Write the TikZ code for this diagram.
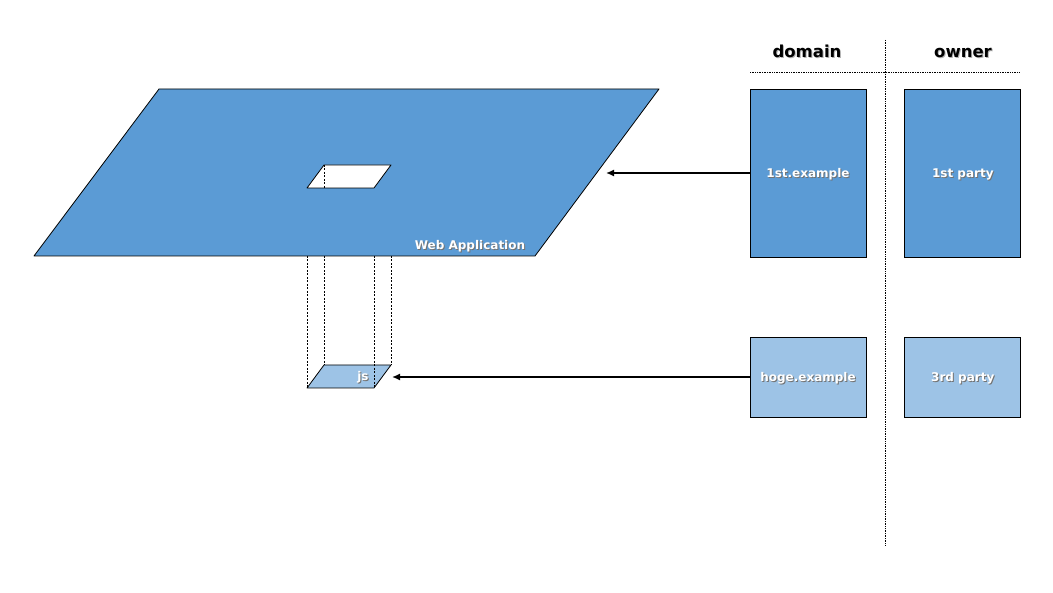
\documentclass[tikz,border=0pt]{standalone}
\usepackage{fontspec}
\setmainfont{DejaVu Sans}
\usetikzlibrary{positioning,arrows.meta}
\definecolor{appblue}{HTML}{5B9BD5}
\definecolor{jsblue}{HTML}{9DC3E6}
\newcommand{\shtext}[3]{\makebox[0pt][l]{\hspace{1pt}\raisebox{-1pt}{\color{#2}#3}}{\color{#1}#3}}
\newcommand{\boxtext}[1]{\shtext{white}{black!55}{#1}}
\newcommand{\headtext}[1]{\shtext{black}{black!30}{#1}}

\begin{document}
\begin{tikzpicture}[x=1pt,y=-1pt,
  box/.style={draw,line width=0.8pt,fill=#1,minimum width=116pt,inner sep=0pt,text height=8.8pt,text depth=0pt,font=\bfseries\fontsize{12}{14}\selectfont},
  head/.style={font=\bfseries\fontsize{16.5}{19}\selectfont,text height=12pt,text depth=0pt},
  sep/.style={densely dotted,line width=0.7pt},
  hidden/.style={dash pattern=on 2pt off 1.5pt,line width=0.6pt},
  link/.style={-{Latex[length=8pt,width=7pt]},line width=1.4pt},
  plane/.style={draw,line width=0.8pt,line join=round}]
\useasboundingbox (0,0) rectangle (1053,593);
%% the web application plane
\coordinate (appNW) at (159,89);
\coordinate (appNE) at (659,89);
\coordinate (appSE) at (535,256);
\coordinate (appSW) at (34,256);
\draw [plane,fill=appblue] (appNW) -- (appNE) -- (appSE) -- (appSW) -- cycle;
\node [font=\bfseries\fontsize{12}{14}\selectfont,text height=8.8pt,text depth=0pt] (appLabel) at (470,245) {\boxtext{Web Application}};
%the hole and the script
\coordinate (holeNW) at (324,165);
\coordinate (holeNE) at (391,165);
\coordinate (holeSE) at (374,188);
\coordinate (holeSW) at (307,188);
\draw [plane,fill=white] (holeNW) -- (holeNE) -- (holeSE) -- (holeSW) -- cycle;
\draw [hidden] (holeNW) -- (holeNW |- holeSW);
\draw [plane,fill=jsblue] ([yshift=-200pt]holeNW) -- ([yshift=-200pt]holeNE) -- ([yshift=-200pt]holeSE) -- ([yshift=-200pt]holeSW) -- cycle;
\node [font=\bfseries\fontsize{12}{14}\selectfont,text height=8.8pt,text depth=0pt] (jsLabel) at (363,376) {\boxtext{js}};
%drawings of hidden edges
\draw [hidden] (holeSW |- appSW) -- ([yshift=-200pt]holeSW);
\draw [hidden] (holeNW |- appSW) -- ([yshift=-200pt]holeNW);
\draw [hidden] (holeSE |- appSW) -- ([yshift=-200pt]holeSE);
\draw [hidden] (holeNE |- appSW) -- ([yshift=-200pt]holeNE);
%the table
\node [head] (domainHead) at (807,52) {\headtext{domain}};
\node [head] (ownerHead) at (963,52) {\headtext{owner}};
\node [box=appblue,minimum height=168pt] (firstDomain) at (808,173) {\boxtext{1st.example}};
\node [box=appblue,minimum height=168pt,right=38pt of firstDomain] (firstOwner) {\boxtext{1st party}};
\node [box=jsblue,minimum height=80pt] (hogeDomain) at (808,377) {\boxtext{hoge.example}};
\node [box=jsblue,minimum height=80pt,right=38pt of hogeDomain] (hogeOwner) {\boxtext{3rd party}};
\coordinate (rowLeft) at (750,72);
\coordinate (rowRight) at (1020,72);
\coordinate (colTop) at (885,40);
\coordinate (colBottom) at (885,545);
\draw [sep] (rowLeft) -- (rowRight);
\draw [sep] (colTop) -- (colBottom);
%drawings of arrows
\coordinate (appEdge) at (606,173);
\coordinate (jsEdge) at (392,377);
\draw [link] (firstDomain.west) -- (appEdge);
\draw [link] (hogeDomain.west) -- (jsEdge);
\end{tikzpicture}
\end{document}
